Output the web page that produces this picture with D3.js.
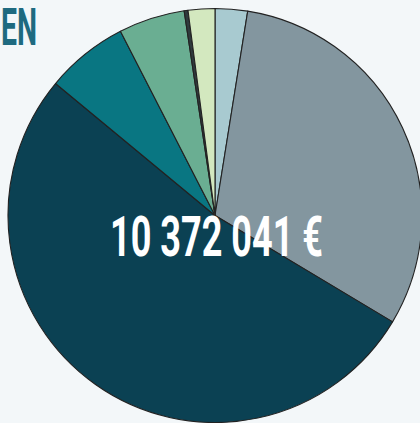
<!DOCTYPE html>
<html>
<head>
<meta charset="utf-8">
<script src="https://cdn.jsdelivr.net/npm/d3@7"></script>
<style>
  html, body { margin:0; padding:0; background:#f3f7f9; }
  svg { display:block; }
</style>
</head>
<body>
<div id="chart"></div>
<script>
// slices, clockwise from 12 o'clock (euros)
const labels  = ["A", "B", "C", "D", "E", "F", "G"];
const amounts = [262000, 3222000, 5436000, 669000, 536000, 31000, 216000];
const colors  = ["#a8cad0", "#83969f", "#0b4153", "#097682", "#6aae92", "#2f3a3d", "#d3e8bf"];
const totalLabel = "10 372 041 €";
const titleText = "EN";

const width = 420, height = 423;
const cx = 215, cy = 215.5, radius = 207;

const svg = d3.select("#chart").append("svg")
    .attr("width", width).attr("height", height);

svg.append("rect").attr("width", width).attr("height", height).attr("fill", "#f3f7f9");

const data = labels.map((l, i) => ({ label:l, value:amounts[i], color:colors[i] }));

const pie = d3.pie().value(d => d.value).sort(null);
const arc = d3.arc().innerRadius(0).outerRadius(radius);

const g = svg.append("g").attr("transform", `translate(${cx},${cy})`);

g.selectAll("path").data(pie(data))
    .join("path")
    .attr("d", arc)
    .attr("fill", d => d.data.color)
    .attr("stroke", "#222")
    .attr("stroke-width", 1.1)
    .attr("stroke-linejoin", "round");

// condensed bold text: draw, measure, squeeze to the wanted width
function condensed(txt, x, y, size, w, fill) {
    const t = svg.append("g").append("text")
        .attr("x", 0).attr("y", 0)
        .style("font-family", "Roboto, 'DejaVu Sans', sans-serif")
        .style("font-weight", 700)
        .style("font-size", size + "px")
        .style("fill", fill)
        .text(txt);
    const bb = t.node().getBBox();
    const k = w / bb.width;
    t.attr("x", -bb.x);
    d3.select(t.node().parentNode).attr("transform", `translate(${x},${y}) scale(${k},1)`);
}

condensed(totalLabel, 110, 256, 55, 213, "#ffffff");
condensed(titleText, 1, 45, 52, 36, "#1e6a80");
</script>
</body>
</html>
